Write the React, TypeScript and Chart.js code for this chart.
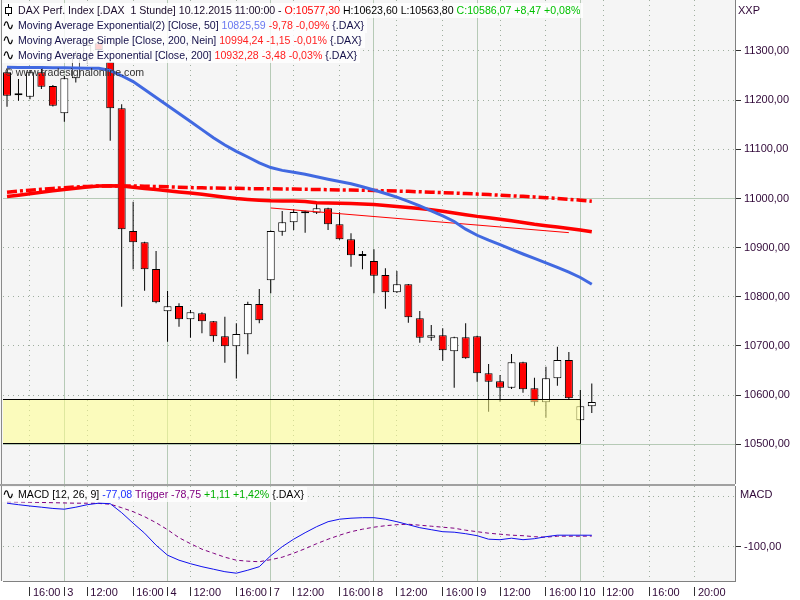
import React, { useEffect, useRef } from "react";
import { Chart, registerables } from "chart.js";

Chart.register(...registerables);

// ---------------- data ----------------
// hourly bars, index 0 = 2 Dec 14:00 ... index 51 = 10 Dec 11:00
const openPrices = [
  11256.7, 11210, 11207, 11256.7, 11228.8, 11173.3, 11244.5, 11282, 11316, 11277.6,
  11183.5, 10934, 10911, 10856.6, 10770.6, 10781.4, 10754.3, 10766.6, 10750.3, 10719.8,
  10699.4, 10723.8, 10785.5, 10833.6, 10932.5, 10951.6, 10970, 10971.1, 10980, 10947.5,
  10917, 10883, 10872.9, 10844.4, 10809.3, 10825.5, 10756.4, 10716.9, 10721.8, 10689.3,
  10717.8, 10719.8, 10644.5, 10628.3, 10615.2, 10666.9, 10614, 10585.5, 10634.3, 10671.6,
  10549, 10577.3,
];
const highPrices = [
  11265, 11243, 11261, 11265, 11231, 11249, 11300, 11320, 11325, 11285.8,
  11191.6, 10993.5, 10912, 10893.3, 10811.9, 10786.9, 10773.3, 10768.6, 10751, 10759.6,
  10746, 10790.1, 10816, 10935, 10974.6, 10978.7, 10975, 10988.8, 10981, 10972,
  10929.2, 10893.3, 10896.7, 10858, 10852.6, 10826, 10771.2, 10742.7, 10736, 10719,
  10746, 10721, 10663.4, 10641.1, 10683.8, 10668, 10635.6, 10658, 10698.6, 10687.8,
  10610.5, 10623.6,
];
const lowPrices = [
  11186.7, 11199, 11202, 11222.7, 11187, 11156, 11236, 11275, 11290, 11117.6,
  10780, 10856, 10812.5, 10787, 10708.8, 10739.3, 10716.9, 10725.9, 10708.8, 10666,
  10633.6, 10683.2, 10746, 10807.2, 10924.4, 10936, 10930.5, 10968.5, 10936, 10916,
  10861.3, 10856, 10807.2, 10775.9, 10808, 10747.4, 10706.8, 10710.8, 10670, 10615.2,
  10674, 10627.4, 10566.4, 10586.7, 10612.6, 10605, 10578.6, 10554.2, 10619.3, 10592,
  10548, 10563.8,
];
const closePrices = [
  11209, 11214, 11256.7, 11227.4, 11188.8, 11244.5, 11292, 11312, 11302, 11183.5,
  10937.4, 10911, 10856, 10788.9, 10780.8, 10754.3, 10768.6, 10750.3, 10719.8, 10699.4,
  10724.4, 10785.5, 10752.3, 10933.9, 10951.6, 10972.6, 10974, 10980, 10947.5, 10917,
  10884.5, 10887, 10843, 10809.3, 10825.5, 10758.4, 10716.9, 10721.8, 10691.3, 10717.8,
  10675, 10644.5, 10627.4, 10615.2, 10666.9, 10612, 10585.5, 10634.3, 10671.6, 10593.7,
  10577.6, 10586.07,
];
const ema50 = [
  11266.8, 11266.6, 11266.4, 11266.2, 11266.0, 11265.8, 11265.4, 11265.0, 11264.8, 11260.3,
  11249.6, 11237.8, 11221.5, 11205.4, 11189.2, 11172.7, 11156.6, 11140.1, 11123.5, 11108.8,
  11095.8, 11084.4, 11072.6, 11062.9, 11057.2, 11053.3, 11049.2, 11044.4, 11039.3, 11034.6,
  11029.9, 11023.8, 11017.3, 11010.2, 11002.7, 10994.1, 10984.8, 10975.0, 10964.4, 10953.2,
  10937.6, 10925.2, 10915.2, 10906.1, 10896.5, 10887.1, 10878.2, 10869.0, 10859.7, 10850.1,
  10839.3, 10825.59,
];
const sma200 = [
  11012.8, 11014.9, 11016.9, 11018.9, 11020.4, 11022.0, 11023.4, 11024.6, 11025.4, 11025.6,
  11025.6, 11025.4, 11025.0, 11024.4, 11023.8, 11023.0, 11022.2, 11021.6, 11021.2, 11020.8,
  11020.6, 11020.1, 11019.9, 11019.7, 11019.3, 11019.1, 11018.7, 11018.3, 11017.9, 11017.5,
  11017.1, 11016.7, 11016.3, 11015.7, 11015.1, 11014.5, 11013.6, 11012.8, 11012.0, 11011.0,
  11010.0, 11009.0, 11007.9, 11006.7, 11005.5, 11004.3, 11003.1, 11001.6, 11000.2, 10998.4,
  10996.6, 10994.24,
];
const ema200 = [
  11003.9, 11006.7, 11009.8, 11012.6, 11015.5, 11018.3, 11020.8, 11023.4, 11025.2, 11025.8,
  11025.2, 11022.8, 11020.4, 11018.1, 11015.7, 11013.4, 11011.2, 11008.8, 11005.7, 11002.7,
  10999.8, 10998.0, 10996.4, 10995.3, 10994.9, 10994.9, 10993.9, 10991.5, 10990.9, 10990.3,
  10989.6, 10989.0, 10987.6, 10985.8, 10983.9, 10981.7, 10979.5, 10977.0, 10974.0, 10970.3,
  10967.1, 10963.6, 10960.8, 10957.7, 10954.5, 10951.0, 10947.5, 10944.7, 10941.8, 10939.0,
  10935.9, 10932.28,
];
const trendIdx = [23, 49];
const trendValues = [10980.7, 10930.5];
const zoneTop = 10592;
const zoneBottom = 10503;
const zoneEndIdx = 50;

const macdValues = [
  -13, -16, -18.6, -21, -23.5, -25, -21, -16, -13, -14,
  -32, -53, -73, -97, -117, -127, -134, -140, -145, -150,
  -153, -147, -140, -118, -100, -85, -72, -60, -50, -45,
  -43, -42, -42, -45, -50, -56, -62, -66, -70, -71,
  -74, -78, -85, -86, -83, -86, -84, -80, -77, -77,
  -77, -77.08,
];
const triggerValues = [
  -10, -10.5, -11, -11.5, -12, -12.5, -13, -13, -13.5, -15,
  -22, -30, -40, -52, -66, -82, -94, -105, -113, -121,
  -127, -129, -130, -126, -121, -113, -104, -94, -85, -77,
  -70, -65, -61, -58, -56, -55, -57, -59, -61, -63,
  -67, -70, -73, -75, -77, -78, -80, -81, -79, -79,
  -79, -78.75,
];

const priceTicks = [10500, 10600, 10700, 10800, 10900, 11000, 11100, 11200, 11300];
const priceSolid = [10500, 11000];
const macdTicks = [0, -100];
const timeTickPos = [2, 5, 7, 11, 14, 16, 20, 23, 25, 29, 32, 34, 38, 41, 43, 47, 50, 52, 56, 60];
const timeTickLabels = ["16:00", "3", "12:00", "16:00", "4", "12:00", "16:00", "7", "12:00", "16:00", "8", "12:00", "16:00", "9", "12:00", "16:00", "10", "12:00", "16:00", "20:00"];
const dayBreakPos = [5, 14, 23, 32, 41, 50];

// ---------------- styling ----------------
const X_MIN = -0.35;
const X_MAX = 63.49;
const AXIS_TEXT = "#300838";
const GRID_DOT = "#9fae9f";
const GRID_SOLID = "#b6cab6";
const FONT = "'Liberation Sans', Arial, sans-serif";

const fmt = (v: number) => v.toFixed(2).replace(".", ",");

const bgPlugin = {
  id: "bgPlugin",
  beforeDraw(chart: any) {
    const { ctx, chartArea } = chart;
    ctx.save();
    ctx.fillStyle = "#f5f5f5";
    ctx.fillRect(0, 0, chartArea.right, chartArea.bottom);
    ctx.strokeStyle = "#8a8a8a";
    ctx.lineWidth = 1;
    ctx.beginPath();
    ctx.moveTo(1.5, 0);
    ctx.lineTo(1.5, chartArea.bottom);
    ctx.stroke();
    ctx.restore();
  },
};

const zonePlugin = {
  id: "zonePlugin",
  afterDatasetsDraw(chart: any) {
    const { ctx, chartArea, scales } = chart;
    const left = chartArea.left;
    const right = Math.round(scales.x.getPixelForValue(zoneEndIdx)) + 0.5;
    const top = Math.round(scales.y.getPixelForValue(zoneTop)) + 0.5;
    const bottom = Math.round(scales.y.getPixelForValue(zoneBottom)) + 0.5;
    ctx.save();
    ctx.fillStyle = "rgba(255,255,140,0.55)";
    ctx.fillRect(left, top, right - left, bottom - top);
    ctx.strokeStyle = "#000";
    ctx.lineWidth = 1;
    ctx.beginPath();
    ctx.moveTo(left, top);
    ctx.lineTo(right, top);
    ctx.lineTo(right, bottom);
    ctx.lineTo(left, bottom);
    ctx.stroke();
    ctx.restore();
  },
};

const timeGridColor = (c: any) =>
  c.tick && dayBreakPos.includes(c.tick.value) ? GRID_SOLID : GRID_DOT;
const timeGridDash = (c: any) =>
  c.tick && dayBreakPos.includes(c.tick.value) ? [] : [1, 4];

function xScale(showLabels: boolean) {
  return {
    type: "linear",
    min: X_MIN,
    max: X_MAX,
    offset: false,
    afterBuildTicks(s: any) {
      s.ticks = timeTickPos.map((v) => ({ value: v }));
    },
    afterFit(s: any) {
      s.height = showLabels ? 19 : 0;
      s.paddingLeft = 0;
      s.paddingRight = 0;
    },
    ticks: {
      display: showLabels,
      autoSkip: false,
      maxRotation: 0,
      align: "start",
      labelOffset: 3,
      padding: -10,
      color: AXIS_TEXT,
      font: { family: FONT, size: 11 },
      callback: (v: number) => {
        const i = timeTickPos.indexOf(v);
        return i >= 0 ? timeTickLabels[i] : "";
      },
    },
    grid: {
      offset: false,
      color: timeGridColor,
      lineWidth: 1,
      drawTicks: showLabels,
      tickLength: 15,
      tickColor: "#303030",
      tickBorderDash: [0, 5, 10],
    },
    border: { display: showLabels, color: "#808080", dash: timeGridDash },
  };
}

function mainConfig(): any {
  const bodyColors = openPrices.map((o, i) => (closePrices[i] < o ? "#ff0000" : "#ffffff"));
  return {
    type: "bar",
    data: {
      datasets: [
        {
          type: "line",
          label: "EMA50",
          data: ema50.map((v, i) => ({ x: i, y: v })),
          borderColor: "#4169e1",
          borderWidth: 3,
          pointRadius: 0,
          order: 0,
        },
        {
          type: "line",
          label: "SMA200",
          data: sma200.map((v, i) => ({ x: i, y: v })),
          borderColor: "#ff0000",
          borderWidth: 3.5,
          borderDash: [10, 3, 3, 3],
          pointRadius: 0,
          order: 0,
        },
        {
          type: "line",
          label: "EMA200",
          data: ema200.map((v, i) => ({ x: i, y: v })),
          borderColor: "#ff0000",
          borderWidth: 3.5,
          pointRadius: 0,
          order: 0,
        },
        {
          type: "line",
          label: "Trend",
          data: trendIdx.map((x, i) => ({ x, y: trendValues[i] })),
          borderColor: "#ff0000",
          borderWidth: 1,
          pointRadius: 0,
          order: 0,
        },
        {
          type: "bar",
          label: "Body",
          data: openPrices.map((o, i) => ({ x: i, y: [o, closePrices[i]] })),
          backgroundColor: bodyColors,
          borderColor: "#000000",
          borderWidth: 1,
          borderSkipped: false,
          grouped: false,
          maxBarThickness: 8,
          order: 1,
        },
        {
          type: "bar",
          label: "Wick",
          data: lowPrices.map((l, i) => ({ x: i, y: [l, highPrices[i]] })),
          backgroundColor: "#000000",
          borderWidth: 0,
          inflateAmount: 0,
          grouped: false,
          maxBarThickness: 1,
          order: 2,
        },
      ],
    },
    options: {
      animation: false,
      responsive: false,
      events: [],
      layout: { padding: { left: 3, top: 0, right: 0, bottom: 0 } },
      plugins: { legend: { display: false }, tooltip: { enabled: false } },
      scales: {
        x: xScale(false),
        y: {
          type: "linear",
          position: "right",
          min: 10500 - (484 - 444.3) / 0.4917,
          max: 11300 + 51 / 0.4917,
          afterBuildTicks(s: any) {
            s.ticks = priceTicks.map((v) => ({ value: v }));
          },
          afterFit(s: any) {
            s.width = 65;
            s.paddingTop = 0;
            s.paddingBottom = 0;
          },
          ticks: {
            color: AXIS_TEXT,
            padding: 3,
            font: { family: FONT, size: 11 },
            callback: (v: number) => fmt(v),
          },
          grid: {
            color: (c: any) => (c.tick && priceSolid.includes(c.tick.value) ? GRID_SOLID : GRID_DOT),
            tickColor: "#303030",
            tickLength: 6,
          },
          border: {
            display: true,
            color: "#808080",
            dash: (c: any) => (c.tick && priceSolid.includes(c.tick.value) ? [] : [1, 4]),
          },
        },
      },
    },
    plugins: [bgPlugin, zonePlugin],
  };
}

function macdConfig(): any {
  return {
    type: "line",
    data: {
      datasets: [
        {
          label: "MACD",
          data: macdValues.map((v, i) => ({ x: i, y: v })),
          borderColor: "#1010ee",
          borderWidth: 1,
          pointRadius: 0,
        },
        {
          label: "Trigger",
          data: triggerValues.map((v, i) => ({ x: i, y: v })),
          borderColor: "#800080",
          borderWidth: 1,
          borderDash: [4, 3],
          pointRadius: 0,
        },
      ],
    },
    options: {
      animation: false,
      responsive: false,
      events: [],
      layout: { padding: { left: 3, top: 0, right: 0, bottom: 0 } },
      plugins: { legend: { display: false }, tooltip: { enabled: false } },
      scales: {
        x: xScale(true),
        y: {
          type: "linear",
          position: "right",
          min: -168.6,
          max: 21.4,
          afterBuildTicks(s: any) {
            s.ticks = macdTicks.map((v) => ({ value: v }));
          },
          afterFit(s: any) {
            s.width = 65;
            s.paddingTop = 0;
            s.paddingBottom = 0;
          },
          ticks: {
            color: AXIS_TEXT,
            padding: 3,
            font: { family: FONT, size: 11 },
            callback: (v: number) => (v === 0 ? "" : fmt(v)),
          },
          grid: {
            color: GRID_DOT,
            tickColor: (c: any) => (c.tick && c.tick.value === 0 ? "rgba(0,0,0,0)" : "#303030"),
            tickLength: 6,
          },
          border: { display: true, color: "#808080", dash: [1, 4] },
        },
      },
    },
    plugins: [bgPlugin],
  };
}

// ---------------- overlay text ----------------
const DARK = "#14104a";
const txt: React.CSSProperties = {
  position: "absolute",
  fontFamily: FONT,
  fontSize: "10.6px",
  lineHeight: "15px",
  height: 15,
  whiteSpace: "pre",
  color: DARK,
};
const box = "rgba(255,255,255,0.82)";

function Wave() {
  return (
    <span style={{ display: "inline-block", width: 16, height: 15, fontFamily: "'DejaVu Sans', sans-serif", fontSize: "15px", lineHeight: "15px", color: "#000", verticalAlign: "top" }}>∿</span>
  );
}

function CandleIcon() {
  return (
    <span style={{ display: "inline-block", position: "relative", width: 16, height: 12, verticalAlign: "-2px" }}>
      <span style={{ position: "absolute", left: 6, top: 0, width: 1, height: 12, background: "#000" }} />
      <span style={{ position: "absolute", left: 3, top: 3, width: 5, height: 5, border: "1px solid #000", background: "#fff" }} />
    </span>
  );
}

export default function App() {
  const mainRef = useRef<HTMLCanvasElement>(null);
  const macdRef = useRef<HTMLCanvasElement>(null);

  useEffect(() => {
    document.body.style.margin = "0";
    const main = new Chart(mainRef.current as HTMLCanvasElement, mainConfig());
    const macd = new Chart(macdRef.current as HTMLCanvasElement, macdConfig());
    return () => {
      main.destroy();
      macd.destroy();
    };
  }, []);

  return (
    <div style={{ position: "absolute", left: 0, top: 0, width: 800, height: 600, background: "#ffffff", overflow: "hidden" }}>
      <canvas ref={mainRef} width={800} height={484} style={{ position: "absolute", left: 0, top: 0, display: "block" }} />
      <div style={{ position: "absolute", left: 0, top: 484, width: 735, height: 2, background: "#a0a0a0" }} />
      <canvas ref={macdRef} width={800} height={114} style={{ position: "absolute", left: 0, top: 486, display: "block" }} />

      <div style={{ ...txt, left: 2, top: 3, background: box, paddingRight: 3 }}>
        <CandleIcon />
        <span style={{ color: "#1a0a2a" }}>DAX Perf. Index [.DAX  1 Stunde] 10.12.2015 11:00:00 - </span>
        <span style={{ color: "#ff0000" }}>O:10577,30</span>
        <span style={{ color: "#000" }}> H:10623,60 L:10563,80 </span>
        <span style={{ color: "#00c000" }}>C:10586,07 +8,47 +0,08%</span>
      </div>
      <div style={{ ...txt, left: 2, top: 18, background: box, paddingRight: 3 }}>
        <Wave />
        <span>Moving Average Exponential(2) [Close, 50] </span>
        <span style={{ color: "#6a78f0" }}>10825,59</span>
        <span style={{ color: "#ff2020" }}> -9,78 -0,09%</span>
        <span> {"{.DAX}"}</span>
      </div>
      <div style={{ ...txt, left: 2, top: 33, background: box, paddingRight: 3 }}>
        <Wave />
        <span>Moving Average Simple [Close, 200, Nein] </span>
        <span style={{ color: "#ff2020" }}>10994,24 -1,15 -0,01%</span>
        <span> {"{.DAX}"}</span>
      </div>
      <div style={{ ...txt, left: 2, top: 48, background: box, paddingRight: 3 }}>
        <Wave />
        <span>Moving Average Exponential [Close, 200] </span>
        <span style={{ color: "#ff2020" }}>10932,28 -3,48 -0,03%</span>
        <span> {"{.DAX}"}</span>
      </div>
      <div style={{ ...txt, left: 5, top: 65, color: "#333333" }}>© www.tradesignalonline.com</div>

      <div style={{ ...txt, left: 738, top: 3, color: AXIS_TEXT, fontSize: "11px" }}>XXP</div>
      <div style={{ ...txt, left: 740, top: 487, color: AXIS_TEXT, fontSize: "11px" }}>MACD</div>

      <div style={{ ...txt, left: 2, top: 487, background: box, paddingRight: 3 }}>
        <Wave />
        <span style={{ color: "#000" }}>MACD [12, 26, 9] </span>
        <span style={{ color: "#2030ff" }}>-77,08 </span>
        <span style={{ color: "#800080" }}>Trigger -78,75 </span>
        <span style={{ color: "#00b000" }}>+1,11 +1,42% </span>
        <span style={{ color: "#000" }}>{"{.DAX}"}</span>
      </div>
    </div>
  );
}
